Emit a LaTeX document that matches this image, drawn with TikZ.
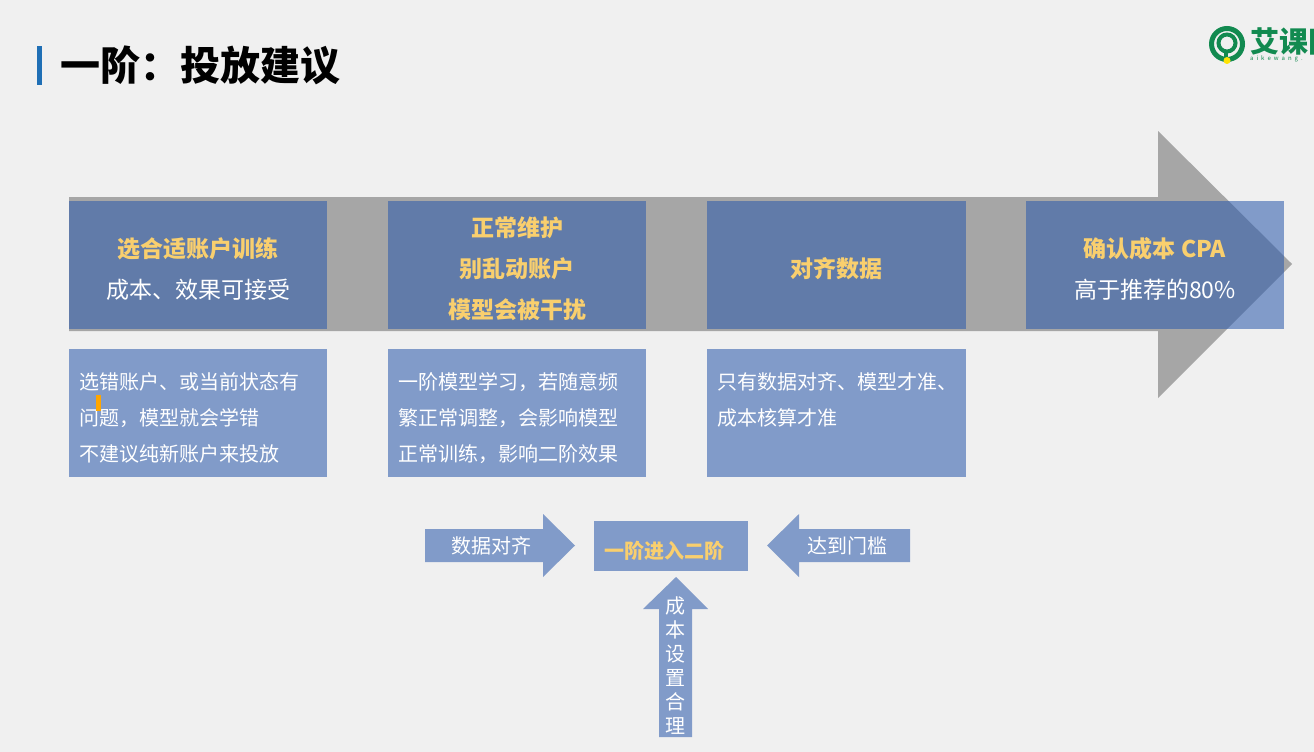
\documentclass[tikz,border=0pt]{standalone}
\usepackage{fontspec}
\setmainfont{Noto Sans CJK SC}
\usetikzlibrary{calc}
\definecolor{bgc}{HTML}{F0F0F0}
\definecolor{shaftc}{HTML}{A6A6A6}
\definecolor{bluec}{RGB}{45,91,172}
\definecolor{goldc}{HTML}{F9CF6E}
\definecolor{greenc}{HTML}{128A50}
\definecolor{barc}{HTML}{1F6FB5}
\definecolor{lightc}{HTML}{819BC9}
\newcommand{\fs}[2]{\fontsize{#1}{#2}\selectfont}
\newcommand{\qc}{\char"FF0C\relax}
\newcommand{\qh}{\char"FF1A\relax}
\tikzset{
  x=1pt,y=-1pt,
  box/.style={fill=bluec,fill opacity=.57,inner sep=0pt,outer sep=0pt,minimum width=258pt,minimum height=128pt},
  txt/.style={inner sep=0pt,text=white,align=center,font=\fs{23}{41}},
  headtxt/.style={txt,text=goldc,font=\bfseries\fs{23}{41}},
  notetxt/.style={inner sep=0pt,text=white,align=left,anchor=north west,font=\fs{20}{36}},
  blockarrow/.style={fill=lightc,draw=none},
  label/.style={text=white,inner sep=0pt,font=\fs{20}{24}}
}
\begin{document}
\begin{tikzpicture}
\useasboundingbox[fill=bgc] (0,0) rectangle (1314,752);
\fill[barc] (37,46) rectangle (42,85);
\node[anchor=west,inner sep=0pt,font=\bfseries\fs{40}{44}] (title) at (60,65) {一阶\qh 投放建议};
% logo
\begin{scope}
\clip (1200,0) rectangle (1314,100);
\draw[greenc,line width=5pt] (1227,44) circle (15.5);
\draw[greenc,line width=4pt] (1227,43) circle (8.5);
\fill[greenc] (1224,50) rectangle (1228,57);
\fill[yellow!85!orange] (1227,60.5) circle (3.5);
\node[anchor=west,inner sep=0pt,text=greenc,font=\bfseries\fs{29}{32}] (logo) at (1250,41) {艾课网};
\node[anchor=west,inner sep=0pt,text=greenc,font=\fs{6}{8}] (logosub) at (1250,59) {a\,\,\,i\,\,\,k\,\,\,e\,\,\,w\,\,\,a\,\,\,n\,\,\,g\,\,\,.};
\end{scope}
% long arrow
\fill[shaftc] (69,197) -- (1158,197) -- (1158,131) -- (1292,264) -- (1158,398) -- (1158,331) -- (69,331) -- cycle;
% top boxes
\node[box] (b1) at (198,265) {};
\node[box] (b2) at (517,265) {};
\node[box,minimum width=259pt] (b3) at (836.5,265) {};
\node[box] (b4) at (1155,265) {};
\node[headtxt] (b1h) at (198,249) {选合适账户训练};
\node[txt] (b1t) at (198,290) {成本、效果可接受};
\node[headtxt] (b2h) at (517,269) {正常维护\\别乱动账户\\模型会被干扰};
\node[headtxt] (b3h) at (836.5,269) {对齐数据};
\node[headtxt] (b4h) at (1155,249) {确认成本 CPA};
\node[txt] (b4t) at (1155,290) {高于推荐的80\%};
% note boxes
\node[box] (n1) at (198,413) {};
\node[box] (n2) at (517,413) {};
\node[box,minimum width=259pt] (n3) at (836.5,413) {};
\node[notetxt] (n1t) at (79,372) {选错账户、或当前状态有\\问题\qc 模型就会学错\\不建议纯新账户来投放};
\node[notetxt] (n2t) at (398,372) {一阶模型学习\qc 若随意频\\繁正常调整\qc 会影响模型\\正常训练\qc 影响二阶效果};
\node[notetxt] (n3t) at (717,372) {只有数据对齐、模型才准、\\成本核算才准};
\fill[orange!70!yellow] (96,395) rectangle (100.5,411);
% centre
\node[box,minimum width=154pt,minimum height=50pt,fill=lightc,fill opacity=1] (c) at (671,546) {};
\node[label,font=\bfseries\fs{20}{24},text=goldc] (ct) at (664,550.5) {一阶进入二阶};
\fill[blockarrow] (425,529) -- (543,529) -- (543,514) -- (575,545.5) -- (543,577) -- (543,562) -- (425,562) -- cycle;
\node[label] (a1) at (491.5,545.5) {数据对齐};
\fill[blockarrow] (910,529) -- (799,529) -- (799,514) -- (767,545.5) -- (799,577) -- (799,562) -- (910,562) -- cycle;
\node[label] (a2) at (847,545.5) {达到门槛};
\fill[blockarrow] (659,737) -- (659,609) -- (643,609) -- (676,577) -- (708,609) -- (692,609) -- (692,737) -- cycle;
\node[label,align=center,anchor=north] (a3) at (675.5,597) {成\\本\\设\\置\\合\\理};
\end{tikzpicture}
\end{document}
